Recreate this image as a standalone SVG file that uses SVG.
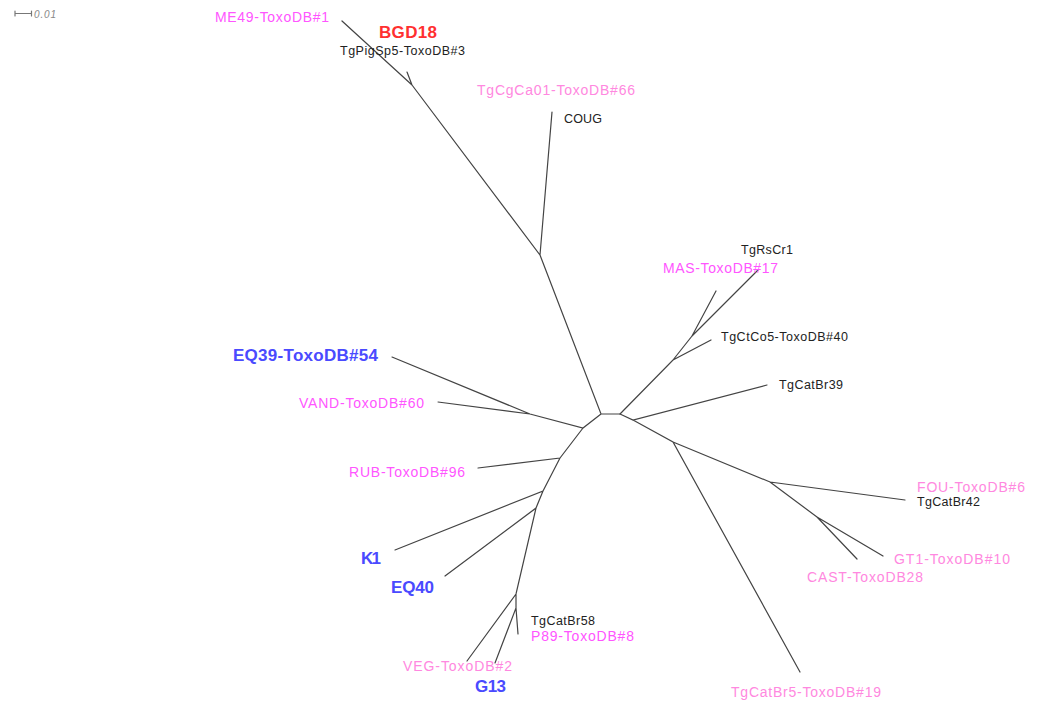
<svg xmlns="http://www.w3.org/2000/svg" width="1038" height="701" viewBox="0 0 1038 701">
<style>
.br{stroke:#444;stroke-width:1.2;fill:none;stroke-linecap:round}
text{font-family:"Liberation Sans",Arial,sans-serif}
.k{fill:#222;font-size:12.5px}
.m{fill:#ff55ff;font-size:14px}
.p{fill:#ff88e0;font-size:14px}
.b{fill:#4a4aff;font-size:17px;font-weight:bold}
.r{fill:#ff3030;font-size:17px;font-weight:bold}
.sc{fill:#888;font-size:10px;font-style:italic}
</style>
<rect width="1038" height="701" fill="#fff"/>
<g id="scale">
<path class="br" d="M15 13.5H31.5M15 11V16M31.5 11V16" stroke-width="1" style="stroke:#777"/>
<text class="sc" x="34" y="18" textLength="22" lengthAdjust="spacing">0.01</text>
</g>
<g id="branches" class="br">
<path d="M342 21L412 85L407 72M412 85L540 255L552 112M540 255L601 414L620 414M601 414L583 428L530 414L392 357M530 414L438 402M583 428L560 458L478 468M560 458L543 491L395 550M543 491L536 508L445 576M536 508L516 594L467 661M516 594L516 608L495 663M516 608L518 634"/>
<path d="M620 414L673 360L711 340M673 360L692 336L716 291M692 336L758 270M620 414L633 420L767 385M633 420L673 442L800 672M673 442L770 482L905 500M770 482L817 517L883 556M817 517L857 559"/>
</g>
<g id="n-ME49"><text class="m" x="215" y="22" textLength="114" lengthAdjust="spacing">ME49-ToxoDB#1</text></g>
<g id="n-BGD18"><text class="r" x="379" y="38" textLength="58" lengthAdjust="spacing">BGD18</text></g>
<g id="n-TgPigSp5"><text class="k" x="340" y="55" textLength="125" lengthAdjust="spacing">TgPigSp5-ToxoDB#3</text></g>
<g id="n-TgCgCa01"><text class="p" x="477" y="95" textLength="158" lengthAdjust="spacing">TgCgCa01-ToxoDB#66</text></g>
<g id="n-COUG"><text class="k" x="564" y="123" textLength="38" lengthAdjust="spacing">COUG</text></g>
<g id="n-TgRsCr1"><text class="k" x="741" y="254" textLength="52" lengthAdjust="spacing">TgRsCr1</text></g>
<g id="n-MAS"><text class="m" x="663" y="273" textLength="115" lengthAdjust="spacing">MAS-ToxoDB#17</text></g>
<g id="n-TgCtCo5"><text class="k" x="721" y="341" textLength="127" lengthAdjust="spacing">TgCtCo5-ToxoDB#40</text></g>
<g id="n-TgCatBr39"><text class="k" x="779" y="389" textLength="64" lengthAdjust="spacing">TgCatBr39</text></g>
<g id="n-EQ39"><text class="b" x="233" y="361" textLength="145" lengthAdjust="spacing">EQ39-ToxoDB#54</text></g>
<g id="n-VAND"><text class="m" x="299" y="408" textLength="125" lengthAdjust="spacing">VAND-ToxoDB#60</text></g>
<g id="n-RUB"><text class="m" x="349" y="477" textLength="116" lengthAdjust="spacing">RUB-ToxoDB#96</text></g>
<g id="n-FOU"><text class="p" x="917" y="492" textLength="108" lengthAdjust="spacing">FOU-ToxoDB#6</text></g>
<g id="n-TgCatBr42"><text class="k" x="917" y="506" textLength="63" lengthAdjust="spacing">TgCatBr42</text></g>
<g id="n-K1"><text class="b" x="361" y="564" textLength="20" lengthAdjust="spacing">K1</text></g>
<g id="n-GT1"><text class="p" x="894" y="564" textLength="116" lengthAdjust="spacing">GT1-ToxoDB#10</text></g>
<g id="n-CAST"><text class="p" x="807" y="582" textLength="116" lengthAdjust="spacing">CAST-ToxoDB28</text></g>
<g id="n-EQ40"><text class="b" x="391" y="593" textLength="43" lengthAdjust="spacing">EQ40</text></g>
<g id="n-TgCatBr58"><text class="k" x="531" y="625" textLength="64" lengthAdjust="spacing">TgCatBr58</text></g>
<g id="n-P89"><text class="m" x="531" y="641" textLength="103" lengthAdjust="spacing">P89-ToxoDB#8</text></g>
<g id="n-VEG"><text class="p" x="403" y="671" textLength="109" lengthAdjust="spacing">VEG-ToxoDB#2</text></g>
<g id="n-G13"><text class="b" x="475" y="692" textLength="31" lengthAdjust="spacing">G13</text></g>
<g id="n-TgCatBr5"><text class="p" x="731" y="697" textLength="150" lengthAdjust="spacing">TgCatBr5-ToxoDB#19</text></g>
</svg>
